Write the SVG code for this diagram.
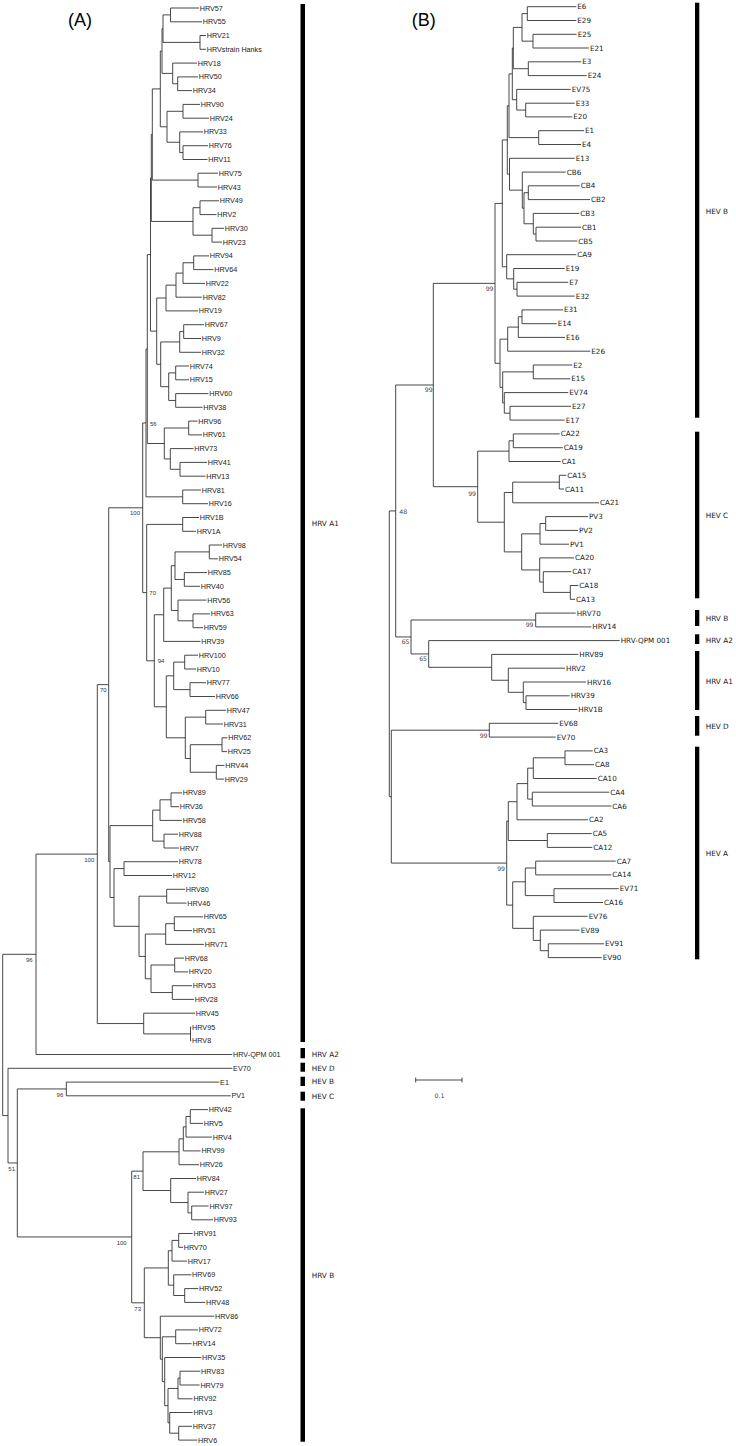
<svg xmlns="http://www.w3.org/2000/svg" width="736" height="1446" viewBox="0 0 736 1446">
<style>
.e{fill:none;stroke:#333;stroke-width:0.9}
.t{font-family:"Liberation Sans",Arial,sans-serif;font-size:7.2px;fill:#1a1a1a;dominant-baseline:central}
.u{font-family:"DejaVu Sans",Verdana,sans-serif;font-size:7.2px;fill:#1a1a1a;dominant-baseline:central}
.g{font-family:"DejaVu Sans",Verdana,sans-serif;font-size:7.3px;fill:#1a1a1a;dominant-baseline:central}
.sa{font-family:"Liberation Sans",Arial,sans-serif;font-size:6px;fill:#333;dominant-baseline:central}
.sb{font-family:"DejaVu Sans",Verdana,sans-serif;font-size:6.2px;fill:#444;dominant-baseline:central}
.ti{font-family:"Liberation Sans",Arial,sans-serif;font-size:18px;fill:#000}
.bar{fill:#000}
</style>
<rect width="736" height="1446" fill="#fff"/>
<text class="ti" x="68" y="25.5">(A)</text>
<text class="ti" x="411.7" y="25.5">(B)</text>
<g id="connectors-A" class="e">
<path d="M199,8H170.5V21.8H202M206,35.5H200V49.3H206M170.5,14.9H163V42.4H200M198,76.9H177.7V90.6H192M197,63.1H172.7V83.75H177.7M163,28.7H162V73.4H172.7M200,104.4H183V118.2H209M208,145.7H183V159.5H207.5M203,131.9H179.7V152.6H183M183,111.3H167V142.25H179.7M162,51.05H160.3V126.8H167M218,173.2H198V187H217M160.3,88.9H152.3V180.1H198M219,200.8H200V214.6H216.5M224,228.3H212V242.1H222M200,207.7H193V235.2H212M152.3,134.5H151.3V221.45H193"/>
<path d="M209,255.9H193.7V269.6H213.5M193.7,262.75H183V283.4H205M183,273.1H176V297.2H202M176,285.15H166V310.9H198M204,324.7H183.7V338.5H201M183.7,331.6H179.7V352.3H201M189,366H175.7V379.8H189M208.5,393.6H175.7V407.3H202.5M175.7,372.9H168.7V400.45H175.7M179.7,341.95H160.7V386.7H168.7M166,298H156.7V364.3H160.7M151.3,178H150.5V331.15H156.7"/>
<path d="M197.5,421.1H188.7V434.9H202M207,462.4H180V476.2H205.5M193.5,448.6H170.3V469.3H180M188.7,428H164.3V458.95H170.3M150.5,254.6H147.3V443.5H164.3M201,490H182.7V503.7H208M147.3,349.05H146V496.85H182.7"/>
<path d="M199,517.5H182.7V531.3H196M222,545H209.3V558.8H218M207,572.6H184.3V586.3H200M209.3,551.9H175V579.45H184.3M210,613.9H193V627.7H203M206.5,600.1H178V620.8H193M175,565.7H171.3V610.45H178M171.3,588.1H163.7V641.4H200.5M198,655.2H184.7V669H196M206,682.7H190V696.5H215M184.7,662.1H173.7V689.6H190M226,710.3H205.7V724H223M227.5,737.8H222V751.6H227M224.5,765.4H216.3V779.1H224M222,744.7H190.3V772.25H216.3M205.7,717.15H185.3V758.5H190.3M173.7,675.85H166.3V737.8H185.3M163.7,614.75H154.3V706.8H166.3M182.7,524.4H146.7V660.8H154.3M146,422.95H142.7V592.6H146.7"/>
<path d="M182,792.9H171V806.7H179M171,799.8H160V820.4H182M178,834.2H164V848H179M160,810.1H152.7V841.1H164M178,861.7H124V875.5H172M185,889.3H166.7V903.1H186.5M203,916.8H174.3V930.6H192M174.3,923.7H165.7V944.4H204M184,958.1H174.7V971.9H188M192,985.7H172.3V999.4H194M174.7,965H151V992.55H172.3M165.7,934.05H145.3V978.8H151M166.7,896.2H139V956.4H145.3M124,868.6H114V926.3H139M152.7,825.6H110V897.45H114M142.7,507.8H108.7V861.5H110"/>
<path d="M191.3,1027H190.5V1040.8H191.3M195,1013.2H143.7V1033.9H190.5M108.7,684.65H97.3V1023.55H143.7M97.3,854.1H36V1054.5H232.3M219.3,1082.1H66.3V1095.8H230.7"/>
<path d="M208,1109.6H190.3V1123.4H203M190.3,1116.5H186V1137.1H212M186,1126.8H183.3V1150.9H200.6M183.3,1138.85H179V1164.7H199M208.6,1206H191.7V1219.8H213M204,1192.2H188V1212.9H191.7M196,1178.5H170.7V1202.55H188M179,1151.8H143V1190.5H170.7M192.6,1233.5H178.7V1247.3H183M178.7,1240.4H172V1261.1H187M198.3,1288.6H184.7V1302.4H205.3M191.3,1274.8H173.7V1295.5H184.7M172,1250.75H168.3V1285.15H173.7M198,1329.9H175.7V1343.7H191.6M200.3,1371.2H180V1385H199.6M180,1378.1H178V1398.8H192.6M192,1426.3H178.7V1440.1H197.3M192.6,1412.5H169.7V1433.2H178.7M178,1388.45H168V1422.85H169.7M201.3,1357.5H164.7V1405.65H168M175.7,1336.8H162.3V1381.6H164.7M214.3,1316.2H160.3V1359.2H162.3M168.3,1267.95H144.3V1337.7H160.3M143,1171.15H131.7V1302.8H144.3M66.3,1088.95H17.3V1236.95H131.7M232.3,1068.3H8V1162.95H17.3M36,954.3H2.7V1115.6H8"/>
</g>
<g id="connectors-B" class="e">
<path d="M576.3,6.7H527.3V20.5H576.3M576.7,34.3H533V48H589M527.3,13.6H522V41.15H533M581.3,61.8H528.3V75.6H586.7M522,27.4H513.3V68.7H528.3M574.7,103.2H525.7V116.9H572.3M570.7,89.4H516.7V110.05H525.7M513.3,48.05H512.3V99.7H516.7M584,130.7H538.7V144.5H581M512.3,73.9H509V137.6H538.7"/>
<path d="M579.7,185.8H528.3V199.6H590M581,227.2H536V241H577.3M579.3,213.4H533.3V234.1H536M528.3,192.7H524V223.75H533.3M565.7,172.1H522.3V208.2H524M574.7,158.3H509.5V190.15H522.3M509,105.75H507.3V174.2H509.5"/>
<path d="M568.3,282.3H517V296.1H574.7M564.7,268.5H513.7V289.2H517M576.3,254.7H506.7V278.85H513.7M507.3,139.95H502.3V266.8H506.7M563,309.9H522V323.7H556.7M522,316.8H518.3V337.4H565M518.3,327.1H507.7V351.2H590.3M572.3,365H533.3V378.8H570.3M571,406.3H510V420.1H564.7M568.3,392.6H504.3V413.2H510M533.3,371.9H502.7V402.9H504.3M507.7,339.15H500V387.4H502.7M502.3,203.4H495V363.3H500"/>
<path d="M559.7,433.9H513.3V447.7H562.7M513.3,440.8H509V461.5H560.7M566.3,475.3H559.3V489H564M559.3,482.15H512.7V502.8H599M588,516.6H545.7V530.4H578M545.7,523.5H540V544.2H569M578.3,585.5H570.3V599.3H575M571.3,571.7H543.3V592.4H570.3M574,557.9H539.7V582.05H543.3M540,533.85H521.7V569.95H539.7M512.7,492.5H504.3V551.9H521.7M509,451.15H477.7V522.2H504.3M495,283.35H433.3V486.7H477.7"/>
<path d="M575.7,613.1H535.7V626.9H591.3M569.7,695.8H526V709.5H577.3M586,682H523.3V702.65H526M565,668.2H508.3V692.3H523.3M578.3,654.4H491.7V680.25H508.3M619.7,640.6H428.7V667.3H491.7M535.7,620H411V653.95H428.7M433.3,385H395.7V636.95H411"/>
<path d="M558.3,723.3H489.3V737.1H555.7M592.7,750.9H565V764.7H594M565,757.8H533.3V778.5H596.7M609.3,792.2H532.3V806H611.3M533.3,768.15H527.7V799.1H532.3M527.7,783.6H517V819.8H588M591.7,833.6H547.3V847.4H592.3M517,801.7H508.3V840.5H547.3M615.7,861.1H535.7V874.9H611.3M618.7,888.7H554V902.5H603M535.7,868H525.3V895.6H554M604,943.8H548.3V957.6H601.7M579.7,930.1H540.3V950.7H548.3M587.7,916.3H533.3V940.4H540.3M525.3,881.8H512.7V928.35H533.3M508.3,821.1H506.7V905.1H512.7M489.3,730.2H391.3V863.1H506.7M395.7,510.95H389.3V796.65H391.3"/>
<path d="M415.7,1080H462M415.7,1077.5V1082.5M462,1077.5V1082.5"/>
</g>
<g id="support-A" class="sa">
<text x="150" y="423.7">56</text>
<text x="140" y="513.3" text-anchor="end">100</text>
<text x="149.3" y="593">70</text>
<text x="157.7" y="661">94</text>
<text x="106.7" y="690" text-anchor="end">70</text>
<text x="94.3" y="860" text-anchor="end">100</text>
<text x="32.7" y="960.3" text-anchor="end">96</text>
<text x="63.3" y="1095" text-anchor="end">96</text>
<text x="15" y="1169" text-anchor="end">51</text>
<text x="140" y="1177.3" text-anchor="end">81</text>
<text x="126.7" y="1243.3" text-anchor="end">100</text>
<text x="141" y="1309" text-anchor="end">73</text>
</g>
<g id="support-B" class="sb" text-anchor="end">
<text x="493.5" y="288.3">99</text>
<text x="432.7" y="389.3">99</text>
<text x="476" y="493.3">99</text>
<text x="533.5" y="624">99</text>
<text x="409.5" y="641">65</text>
<text x="427" y="658.3">65</text>
<text x="487.5" y="735">99</text>
<text x="505" y="868.3">99</text>
<text x="399.3" y="511" text-anchor="start">48</text>
</g>
<g id="scale-bar"><text class="sb" x="439.5" y="1095" text-anchor="middle">0.1</text></g>
<g id="groups-A">
<g id="grpA-HRV-A1"><rect class="bar" x="300.5" y="4" width="4.5" height="1038"/><text class="g" x="311.7" y="523.3">HRV A1</text></g>
<g id="grpA-HRV-A2"><rect class="bar" x="300.5" y="1048" width="4.5" height="10.3"/><text class="g" x="311.7" y="1054.7">HRV A2</text></g>
<g id="grpA-HEV-D"><rect class="bar" x="300.5" y="1062.7" width="4.5" height="9"/><text class="g" x="311.7" y="1068">HEV D</text></g>
<g id="grpA-HEV-B"><rect class="bar" x="300.5" y="1076.7" width="4.5" height="9.3"/><text class="g" x="311.7" y="1081.7">HEV B</text></g>
<g id="grpA-HEV-C"><rect class="bar" x="300.5" y="1091.7" width="4.5" height="9"/><text class="g" x="311.7" y="1096">HEV C</text></g>
<g id="grpA-HRV-B"><rect class="bar" x="300.5" y="1108.3" width="4.5" height="333.4"/><text class="g" x="311.7" y="1275.7">HRV B</text></g>
</g>
<g id="groups-B">
<g id="grpB-HEV-B"><rect class="bar" x="695" y="2.7" width="4.3" height="415"/><text class="g" x="705.7" y="211">HEV B</text></g>
<g id="grpB-HEV-C"><rect class="bar" x="695" y="431.7" width="4.3" height="166.6"/><text class="g" x="705.7" y="515.7">HEV C</text></g>
<g id="grpB-HRV-B"><rect class="bar" x="695" y="610" width="4.3" height="16"/><text class="g" x="705.7" y="618.3">HRV B</text></g>
<g id="grpB-HRV-A2"><rect class="bar" x="695" y="634.3" width="4.3" height="9.7"/><text class="g" x="705.7" y="640">HRV A2</text></g>
<g id="grpB-HRV-A1"><rect class="bar" x="695" y="651" width="4.3" height="59"/><text class="g" x="705.7" y="681">HRV A1</text></g>
<g id="grpB-HEV-D"><rect class="bar" x="695" y="716" width="4.3" height="19.7"/><text class="g" x="705.7" y="726">HEV D</text></g>
<g id="grpB-HEV-A"><rect class="bar" x="695" y="746.7" width="4.3" height="212.6"/><text class="g" x="705.7" y="853.3">HEV A</text></g>
</g>
<g id="leaves-A" class="t">
<g id="a-HRV57"><text x="199.8" y="8">HRV57</text></g>
<g id="a-HRV55"><text x="202.8" y="21.8">HRV55</text></g>
<g id="a-HRV21"><text x="206.8" y="35.5">HRV21</text></g>
<g id="a-HRVstrain-Hanks"><text x="206.8" y="49.3">HRVstrain Hanks</text></g>
<g id="a-HRV18"><text x="197.8" y="63.1">HRV18</text></g>
<g id="a-HRV50"><text x="198.8" y="76.9">HRV50</text></g>
<g id="a-HRV34"><text x="192.8" y="90.6">HRV34</text></g>
<g id="a-HRV90"><text x="200.8" y="104.4">HRV90</text></g>
<g id="a-HRV24"><text x="209.8" y="118.2">HRV24</text></g>
<g id="a-HRV33"><text x="203.8" y="131.9">HRV33</text></g>
<g id="a-HRV76"><text x="208.8" y="145.7">HRV76</text></g>
<g id="a-HRV11"><text x="208.3" y="159.5">HRV11</text></g>
<g id="a-HRV75"><text x="218.8" y="173.2">HRV75</text></g>
<g id="a-HRV43"><text x="217.8" y="187">HRV43</text></g>
<g id="a-HRV49"><text x="219.8" y="200.8">HRV49</text></g>
<g id="a-HRV2"><text x="217.3" y="214.6">HRV2</text></g>
<g id="a-HRV30"><text x="224.8" y="228.3">HRV30</text></g>
<g id="a-HRV23"><text x="222.8" y="242.1">HRV23</text></g>
<g id="a-HRV94"><text x="209.8" y="255.9">HRV94</text></g>
<g id="a-HRV64"><text x="214.3" y="269.6">HRV64</text></g>
<g id="a-HRV22"><text x="205.8" y="283.4">HRV22</text></g>
<g id="a-HRV82"><text x="202.8" y="297.2">HRV82</text></g>
<g id="a-HRV19"><text x="198.8" y="310.9">HRV19</text></g>
<g id="a-HRV67"><text x="204.8" y="324.7">HRV67</text></g>
<g id="a-HRV9"><text x="201.8" y="338.5">HRV9</text></g>
<g id="a-HRV32"><text x="201.8" y="352.3">HRV32</text></g>
<g id="a-HRV74"><text x="189.8" y="366">HRV74</text></g>
<g id="a-HRV15"><text x="189.8" y="379.8">HRV15</text></g>
<g id="a-HRV60"><text x="209.3" y="393.6">HRV60</text></g>
<g id="a-HRV38"><text x="203.3" y="407.3">HRV38</text></g>
<g id="a-HRV96"><text x="198.3" y="421.1">HRV96</text></g>
<g id="a-HRV61"><text x="202.8" y="434.9">HRV61</text></g>
<g id="a-HRV73"><text x="194.3" y="448.6">HRV73</text></g>
<g id="a-HRV41"><text x="207.8" y="462.4">HRV41</text></g>
<g id="a-HRV13"><text x="206.3" y="476.2">HRV13</text></g>
<g id="a-HRV81"><text x="201.8" y="490">HRV81</text></g>
<g id="a-HRV16"><text x="208.8" y="503.7">HRV16</text></g>
<g id="a-HRV1B"><text x="199.8" y="517.5">HRV1B</text></g>
<g id="a-HRV1A"><text x="196.8" y="531.3">HRV1A</text></g>
<g id="a-HRV98"><text x="222.8" y="545">HRV98</text></g>
<g id="a-HRV54"><text x="218.8" y="558.8">HRV54</text></g>
<g id="a-HRV85"><text x="207.8" y="572.6">HRV85</text></g>
<g id="a-HRV40"><text x="200.8" y="586.3">HRV40</text></g>
<g id="a-HRV56"><text x="207.3" y="600.1">HRV56</text></g>
<g id="a-HRV63"><text x="210.8" y="613.9">HRV63</text></g>
<g id="a-HRV59"><text x="203.8" y="627.7">HRV59</text></g>
<g id="a-HRV39"><text x="201.3" y="641.4">HRV39</text></g>
<g id="a-HRV100"><text x="198.8" y="655.2">HRV100</text></g>
<g id="a-HRV10"><text x="196.8" y="669">HRV10</text></g>
<g id="a-HRV77"><text x="206.8" y="682.7">HRV77</text></g>
<g id="a-HRV66"><text x="215.8" y="696.5">HRV66</text></g>
<g id="a-HRV47"><text x="226.8" y="710.3">HRV47</text></g>
<g id="a-HRV31"><text x="223.8" y="724">HRV31</text></g>
<g id="a-HRV62"><text x="228.3" y="737.8">HRV62</text></g>
<g id="a-HRV25"><text x="227.8" y="751.6">HRV25</text></g>
<g id="a-HRV44"><text x="225.3" y="765.4">HRV44</text></g>
<g id="a-HRV29"><text x="224.8" y="779.1">HRV29</text></g>
<g id="a-HRV89"><text x="182.8" y="792.9">HRV89</text></g>
<g id="a-HRV36"><text x="179.8" y="806.7">HRV36</text></g>
<g id="a-HRV58"><text x="182.8" y="820.4">HRV58</text></g>
<g id="a-HRV88"><text x="178.8" y="834.2">HRV88</text></g>
<g id="a-HRV7"><text x="179.8" y="848">HRV7</text></g>
<g id="a-HRV78"><text x="178.8" y="861.7">HRV78</text></g>
<g id="a-HRV12"><text x="172.8" y="875.5">HRV12</text></g>
<g id="a-HRV80"><text x="185.8" y="889.3">HRV80</text></g>
<g id="a-HRV46"><text x="187.3" y="903.1">HRV46</text></g>
<g id="a-HRV65"><text x="203.8" y="916.8">HRV65</text></g>
<g id="a-HRV51"><text x="192.8" y="930.6">HRV51</text></g>
<g id="a-HRV71"><text x="204.8" y="944.4">HRV71</text></g>
<g id="a-HRV68"><text x="184.8" y="958.1">HRV68</text></g>
<g id="a-HRV20"><text x="188.8" y="971.9">HRV20</text></g>
<g id="a-HRV53"><text x="192.8" y="985.7">HRV53</text></g>
<g id="a-HRV28"><text x="194.8" y="999.4">HRV28</text></g>
<g id="a-HRV45"><text x="195.8" y="1013.2">HRV45</text></g>
<g id="a-HRV95"><text x="192.1" y="1027">HRV95</text></g>
<g id="a-HRV8"><text x="192.1" y="1040.8">HRV8</text></g>
<g id="a-HRV-QPM-001"><text x="233.1" y="1054.5">HRV-QPM 001</text></g>
<g id="a-EV70"><text x="233.1" y="1068.3">EV70</text></g>
<g id="a-E1"><text x="220.1" y="1082.1">E1</text></g>
<g id="a-PV1"><text x="231.5" y="1095.8">PV1</text></g>
<g id="a-HRV42"><text x="208.8" y="1109.6">HRV42</text></g>
<g id="a-HRV5"><text x="203.8" y="1123.4">HRV5</text></g>
<g id="a-HRV4"><text x="212.8" y="1137.1">HRV4</text></g>
<g id="a-HRV99"><text x="201.4" y="1150.9">HRV99</text></g>
<g id="a-HRV26"><text x="199.8" y="1164.7">HRV26</text></g>
<g id="a-HRV84"><text x="196.8" y="1178.5">HRV84</text></g>
<g id="a-HRV27"><text x="204.8" y="1192.2">HRV27</text></g>
<g id="a-HRV97"><text x="209.4" y="1206">HRV97</text></g>
<g id="a-HRV93"><text x="213.8" y="1219.8">HRV93</text></g>
<g id="a-HRV91"><text x="193.4" y="1233.5">HRV91</text></g>
<g id="a-HRV70"><text x="183.8" y="1247.3">HRV70</text></g>
<g id="a-HRV17"><text x="187.8" y="1261.1">HRV17</text></g>
<g id="a-HRV69"><text x="192.1" y="1274.8">HRV69</text></g>
<g id="a-HRV52"><text x="199.1" y="1288.6">HRV52</text></g>
<g id="a-HRV48"><text x="206.1" y="1302.4">HRV48</text></g>
<g id="a-HRV86"><text x="215.1" y="1316.2">HRV86</text></g>
<g id="a-HRV72"><text x="198.8" y="1329.9">HRV72</text></g>
<g id="a-HRV14"><text x="192.4" y="1343.7">HRV14</text></g>
<g id="a-HRV35"><text x="202.1" y="1357.5">HRV35</text></g>
<g id="a-HRV83"><text x="201.1" y="1371.2">HRV83</text></g>
<g id="a-HRV79"><text x="200.4" y="1385">HRV79</text></g>
<g id="a-HRV92"><text x="193.4" y="1398.8">HRV92</text></g>
<g id="a-HRV3"><text x="193.4" y="1412.5">HRV3</text></g>
<g id="a-HRV37"><text x="192.8" y="1426.3">HRV37</text></g>
<g id="a-HRV6"><text x="198.1" y="1440.1">HRV6</text></g>
</g>
<g id="leaves-B" class="u">
<g id="b-E6"><text x="577.3" y="6.7">E6</text></g>
<g id="b-E29"><text x="577.3" y="20.5">E29</text></g>
<g id="b-E25"><text x="577.7" y="34.3">E25</text></g>
<g id="b-E21"><text x="590" y="48">E21</text></g>
<g id="b-E3"><text x="582.3" y="61.8">E3</text></g>
<g id="b-E24"><text x="587.7" y="75.6">E24</text></g>
<g id="b-EV75"><text x="571.7" y="89.4">EV75</text></g>
<g id="b-E33"><text x="575.7" y="103.2">E33</text></g>
<g id="b-E20"><text x="573.3" y="116.9">E20</text></g>
<g id="b-E1"><text x="585" y="130.7">E1</text></g>
<g id="b-E4"><text x="582" y="144.5">E4</text></g>
<g id="b-E13"><text x="575.7" y="158.3">E13</text></g>
<g id="b-CB6"><text x="566.7" y="172.1">CB6</text></g>
<g id="b-CB4"><text x="580.7" y="185.8">CB4</text></g>
<g id="b-CB2"><text x="591" y="199.6">CB2</text></g>
<g id="b-CB3"><text x="580.3" y="213.4">CB3</text></g>
<g id="b-CB1"><text x="582" y="227.2">CB1</text></g>
<g id="b-CB5"><text x="578.3" y="241">CB5</text></g>
<g id="b-CA9"><text x="577.3" y="254.7">CA9</text></g>
<g id="b-E19"><text x="565.7" y="268.5">E19</text></g>
<g id="b-E7"><text x="569.3" y="282.3">E7</text></g>
<g id="b-E32"><text x="575.7" y="296.1">E32</text></g>
<g id="b-E31"><text x="564" y="309.9">E31</text></g>
<g id="b-E14"><text x="557.7" y="323.7">E14</text></g>
<g id="b-E16"><text x="566" y="337.4">E16</text></g>
<g id="b-E26"><text x="591.3" y="351.2">E26</text></g>
<g id="b-E2"><text x="573.3" y="365">E2</text></g>
<g id="b-E15"><text x="571.3" y="378.8">E15</text></g>
<g id="b-EV74"><text x="569.3" y="392.6">EV74</text></g>
<g id="b-E27"><text x="572" y="406.3">E27</text></g>
<g id="b-E17"><text x="565.7" y="420.1">E17</text></g>
<g id="b-CA22"><text x="560.7" y="433.9">CA22</text></g>
<g id="b-CA19"><text x="563.7" y="447.7">CA19</text></g>
<g id="b-CA1"><text x="561.7" y="461.5">CA1</text></g>
<g id="b-CA15"><text x="567.3" y="475.3">CA15</text></g>
<g id="b-CA11"><text x="565" y="489">CA11</text></g>
<g id="b-CA21"><text x="600" y="502.8">CA21</text></g>
<g id="b-PV3"><text x="589" y="516.6">PV3</text></g>
<g id="b-PV2"><text x="579" y="530.4">PV2</text></g>
<g id="b-PV1"><text x="570" y="544.2">PV1</text></g>
<g id="b-CA20"><text x="575" y="557.9">CA20</text></g>
<g id="b-CA17"><text x="572.3" y="571.7">CA17</text></g>
<g id="b-CA18"><text x="579.3" y="585.5">CA18</text></g>
<g id="b-CA13"><text x="576" y="599.3">CA13</text></g>
<g id="b-HRV70"><text x="576.7" y="613.1">HRV70</text></g>
<g id="b-HRV14"><text x="592.3" y="626.9">HRV14</text></g>
<g id="b-HRV-QPM-001"><text x="620.7" y="640.6">HRV-QPM 001</text></g>
<g id="b-HRV89"><text x="579.3" y="654.4">HRV89</text></g>
<g id="b-HRV2"><text x="566" y="668.2">HRV2</text></g>
<g id="b-HRV16"><text x="587" y="682">HRV16</text></g>
<g id="b-HRV39"><text x="570.7" y="695.8">HRV39</text></g>
<g id="b-HRV1B"><text x="578.3" y="709.5">HRV1B</text></g>
<g id="b-EV68"><text x="559.3" y="723.3">EV68</text></g>
<g id="b-EV70"><text x="556.7" y="737.1">EV70</text></g>
<g id="b-CA3"><text x="593.7" y="750.9">CA3</text></g>
<g id="b-CA8"><text x="595" y="764.7">CA8</text></g>
<g id="b-CA10"><text x="597.7" y="778.5">CA10</text></g>
<g id="b-CA4"><text x="610.3" y="792.2">CA4</text></g>
<g id="b-CA6"><text x="612.3" y="806">CA6</text></g>
<g id="b-CA2"><text x="589" y="819.8">CA2</text></g>
<g id="b-CA5"><text x="592.7" y="833.6">CA5</text></g>
<g id="b-CA12"><text x="593.3" y="847.4">CA12</text></g>
<g id="b-CA7"><text x="616.7" y="861.1">CA7</text></g>
<g id="b-CA14"><text x="612.3" y="874.9">CA14</text></g>
<g id="b-EV71"><text x="619.7" y="888.7">EV71</text></g>
<g id="b-CA16"><text x="604" y="902.5">CA16</text></g>
<g id="b-EV76"><text x="588.7" y="916.3">EV76</text></g>
<g id="b-EV89"><text x="580.7" y="930.1">EV89</text></g>
<g id="b-EV91"><text x="605" y="943.8">EV91</text></g>
<g id="b-EV90"><text x="602.7" y="957.6">EV90</text></g>
</g>
</svg>
